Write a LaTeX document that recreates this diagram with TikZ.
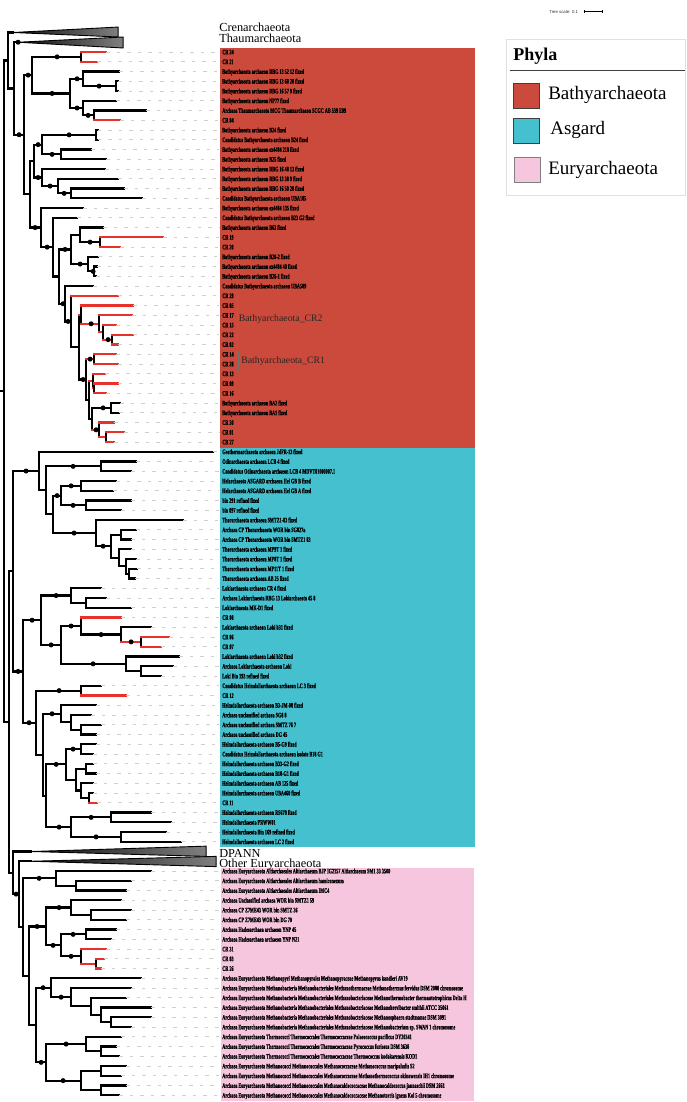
\documentclass[tikz,border=0pt]{standalone}
\usepackage{fontspec}
\setmainfont{Liberation Serif}
\newfontfamily\leaffont{Liberation Serif}[FakeStretch=0.6, BoldFeatures={FakeBold=0.8}]
\newfontfamily\scalefont{Liberation Sans}
\definecolor{bathy}{HTML}{CC4A3B}
\definecolor{asg}{HTML}{44C0CE}
\definecolor{eury}{HTML}{F5C6DD}
\definecolor{crred}{HTML}{E8312A}
\definecolor{guidegray}{HTML}{CFCFCF}
\tikzset{
  br/.style={line width=2.2pt, line cap=rect},
  guideline/.style={guidegray, line width=0.7pt, dash pattern=on 3.5pt off 7pt},
  leaf/.style={anchor=base west, inner sep=0pt, yshift=-2.4pt, text=black,
    font=\leaffont\bfseries\fontsize{7}{7}\selectfont},
  big/.style={anchor=base west, inner sep=0pt, font=\fontsize{12.3}{12.3}\selectfont},
  clade/.style={anchor=base west, inner sep=0pt, text=black!85, font=\fontsize{9.8}{9.8}\selectfont},
  tri/.style={left color=black!95, right color=black!50, draw=black, line width=0.9pt, line join=miter},
  legtext/.style={anchor=base west, inner sep=0pt, font=\fontsize{19}{19}\selectfont},
  swatch/.style={draw=black!75, line width=0.8pt}
}
\newcommand\tnode[5]{\draw[br] (#1,#3) -- (#2,#3); \draw[br] (#2,#4) -- (#2,#5);}
\newcommand\tnoder[5]{\draw[br,crred] (#1,#3) -- (#2,#3); \draw[br] (#2,#4) -- (#2,#5);}
\newcommand\tleaf[4]{\draw[br,#1] (#2,#4) -- (#3,#4); \draw[guideline] (#3,#4) -- (218,#4);}
\newcommand\tdot[2]{\fill (#1,#2) circle (2.5pt);}
\begin{document}
\begin{tikzpicture}[x=1pt,y=-9.75pt]
% ---------- pixel scope: frame, boxes, legend ----------
\begin{scope}[shift={(0pt,32.5pt)},y=-1pt]
  \useasboundingbox (0,0) rectangle (685,1102);
  \fill[white] (0,0) rectangle (685,1102);
  \fill[bathy] (219,47.6) rectangle (474,447.9);
  \fill[asg] (219,447.9) rectangle (474,846.6);
  \fill[eury] (220,867.5) rectangle (473,1101);
  % clade bars
  \draw[black!55, line width=0.6pt] (235.7,293) -- (235.7,347);
  \draw[black!55, line width=0.6pt] (237,352) -- (237,372);
  \node[clade] (cr2) at (237.5,321.5) {Bathyarchaeota\_CR2};
  \node[clade] (cr1) at (240,363.5) {Bathyarchaeota\_CR1};
  % group labels
  \node[big] (cren) at (218,32) {Crenarchaeota};
  \node[big] (thaum) at (218,43) {Thaumarchaeota};
  \node[big] (dpann) at (218,857) {DPANN};
  \node[big] (oeury) at (218,867.3) {Other Euryarchaeota};
  % tree scale
  \node[anchor=base west, inner sep=0pt, font=\scalefont\fontsize{4.3}{4.3}\selectfont, text=black!80] (tscale) at (548,13.5) {Tree scale: 0.1};
  \draw[line width=0.6pt] (583,11.5) -- (601,11.5);
  \draw[line width=0.6pt] (583,10) -- (583,13) (601,10) -- (601,13);
  % legend
  \draw[black!12, fill=white, line width=0.6pt] (505,39) rectangle (684,195);
  \node[anchor=base west, inner sep=0pt, font=\bfseries\fontsize{18}{18}\selectfont] (phyla) at (512,60.7) {Phyla};
  \draw[black!75, line width=0.9pt] (509,70.3) -- (684,70.3);
  \filldraw[swatch, fill=bathy] (512,83) rectangle (538,108);
  \node[legtext] (lbathy) at (547,100) {Bathyarchaeota};
  \filldraw[swatch, fill=asg] (512,118) rectangle (538,143);
  \node[legtext] (lasg) at (549,135) {Asgard};
  \filldraw[swatch, draw=black!50, fill=eury] (513,157) rectangle (539,182);
  \node[legtext] (leury) at (547,175) {Euryarchaeota};
\end{scope}
% ---------- collapsed clades ----------
\shade[tri] (12,0) -- (117,-0.56) -- (117,0.46) -- cycle;
\shade[tri] (17,1) -- (122,0.46) -- (122,1.59) -- cycle;
\shade[tri] (30,84) -- (205,83.45) -- (205,84.5) -- cycle;
\shade[tri] (30,85) -- (215,84.5) -- (215,85.55) -- cycle;
% ---------- backbone ----------
\draw[br] (0,36.8) -- (3,36.8);
\draw[br] (3,2.87) -- (3,70.72);
\draw[br] (3,2.87) -- (7,2.87);
\draw[br] (7,0) -- (7,5.743);
\draw[br] (7,0) -- (12,0);
\draw[br] (7,5.743) -- (13,5.743);
\draw[br] (13,1) -- (13,10.4865);
\draw[br] (13,1) -- (17,1); \tdot{17}{1}
\draw[br] (3,70.72) -- (8,70.72);
\draw[br] (8,55.26) -- (8,86.19);
% ---------- Bathyarchaeota ----------
\tnode{13}{23}{10.4865}{4.375}{16.5979} \tdot{18}{10.4865}
\tnode{23}{31}{4.375}{2.5}{6.25} \tdot{27}{4.375}
\tnode{31}{80}{2.5}{2}{3} \tdot{56}{2.5}
\tleaf{crred}{80}{105}{2} \tleaf{crred}{80}{96}{3}
\tnode{31}{69}{6.25}{4.75}{7.75} \tdot{51}{6.25}
\tnode{69}{82}{4.75}{4}{5.5} \tdot{76}{4.75}
\tleaf{black}{82}{118}{4}
\tnode{82}{115}{5.5}{5}{6} \tdot{98}{5.5}
\tleaf{black}{115}{117}{5} \tleaf{black}{115}{117}{6}
\tnode{69}{82}{7.75}{7}{8.5} \tdot{76}{7.75}
\tleaf{black}{82}{115}{7}
\tnode{82}{93}{8.5}{8}{9} \tdot{87}{8.5}
\tleaf{black}{93}{145}{8} \tleaf{crred}{93}{119}{9}
\tnode{23}{29}{16.5979}{13.1875}{20.0083}
\tnode{29}{33}{13.1875}{11.5}{14.875}
\tnode{33}{41}{11.5}{10.5}{12.5} \tdot{37}{11.5}
\tnode{41}{95}{10.5}{10}{11} \tdot{68}{10.5}
\tleaf{black}{95}{96.5}{10} \tleaf{black}{95}{96.5}{11}
\tnode{41}{60}{12.5}{12}{13} \tdot{51}{12.5}
\tleaf{black}{60}{90}{12} \tleaf{black}{60}{105}{13}
\tnode{33}{41}{14.875}{14}{15.75} \tdot{37}{14.875}
\tleaf{black}{41}{104}{14}
\tnode{41}{57}{15.75}{15}{16.5} \tdot{49}{15.75}
\tleaf{black}{57}{117}{15}
\tnode{57}{70}{16.5}{16}{17} \tdot{63}{16.5}
\tleaf{black}{70}{123}{16} \tleaf{black}{70}{141}{17}
\tnode{29}{40}{20.0083}{18}{22.0166} \tdot{34}{20.0083}
\tleaf{black}{40}{82}{18}
\tnode{40}{52}{22.0166}{19}{25.0332} \tdot{46}{22.0166}
\tleaf{black}{52}{76}{19}
\tnode{52}{58}{25.0332}{22.25}{27.8164}
\tnode{58}{70}{22.25}{20.75}{23.75} \tdot{64}{22.25}
\tnode{70}{79}{20.75}{20}{21.5}
\tleaf{black}{79}{102}{20}
\tnode{79}{99}{21.5}{21}{22} \tdot{89}{21.5}
\tleaf{crred}{99}{162}{21} \tleaf{crred}{99}{119}{22}
\tnode{70}{87}{23.75}{23}{24.5} \tdot{79}{23.75}
\tleaf{black}{87}{97}{23}
\tnode{87}{93}{24.5}{24}{25} \tdot{92}{24.5}
\tleaf{black}{93}{96}{24} \tleaf{black}{93}{95}{25}
\tnode{58}{64}{27.8164}{26}{29.6328} \tdot{62}{27.8164}
\tleaf{black}{64}{92}{26}
\tnode{64}{70}{29.6328}{27}{32.2656} \tdot{67}{29.6328}
\tleaf{crred}{70}{117}{27}
\tnode{70}{78}{32.2656}{28.9375}{35.5938}
\tnoder{78}{80}{28.9375}{28}{29.875}
\tleaf{crred}{80}{132}{28}
\tnoder{80}{98}{29.875}{29}{30.75} \tdot{90}{29.875}
\tleaf{crred}{98}{131}{29}
\tnoder{98}{102}{30.75}{30}{31.5}
\tleaf{crred}{102}{115}{30}
\tnoder{102}{111}{31.5}{31}{32} \tdot{107}{31.5}
\tleaf{crred}{111}{132}{31} \tleaf{crred}{111}{117}{32}
\tnode{78}{85}{35.5938}{33.5}{37.6875} \tdot{82}{35.5938}
\tnoder{85}{93}{33.5}{33}{34} \tdot{89}{33.5}
\tleaf{crred}{93}{115}{33} \tleaf{crred}{93}{117}{34}
\tnode{85}{88}{37.6875}{35.75}{39.625}
\tnoder{88}{92}{35.75}{35}{36.5}
\tleaf{crred}{92}{104}{35}
\tnoder{92}{93}{36.5}{36}{37}
\tleaf{crred}{93}{117}{36} \tleaf{crred}{93}{105}{37}
\tnode{88}{91}{39.625}{38.5}{40.75}
\tnode{91}{110}{38.5}{38}{39} \tdot{102}{38.5}
\tleaf{black}{110}{119}{38} \tleaf{black}{110}{118}{39}
\tnoder{91}{98}{40.75}{40}{41.5} \tdot{95}{40.75}
\tleaf{crred}{98}{113}{40}
\tnoder{98}{105}{41.5}{41}{42}
\tleaf{crred}{105}{123}{41} \tleaf{crred}{105}{113}{42}
% ---------- Asgard ----------
\tnode{8}{12}{55.26}{44.98}{65.53}
\tnode{12}{38}{44.98}{43}{46.96} \tdot{25}{44.98}
\tleaf{black}{38}{212}{43}
\tnode{38}{45}{46.96}{44.5}{49.42}
\tnode{45}{100}{44.5}{44}{45} \tdot{72}{44.5}
\tleaf{black}{100}{135}{44} \tleaf{black}{100}{130}{45}
\tnode{45}{52}{49.42}{47.5}{51.34}
\tnode{52}{60}{47.5}{46.5}{48.5} \tdot{56}{47.5}
\tnode{60}{80}{46.5}{46}{47} \tdot{70}{46.5}
\tleaf{black}{80}{115}{46} \tleaf{black}{80}{112}{47}
\tnode{60}{85}{48.5}{48}{49} \tdot{72}{48.5}
\tleaf{black}{85}{130}{48} \tleaf{black}{85}{120}{49}
\tnode{52}{95}{51.34}{50}{52.69} \tdot{73}{51.34}
\tleaf{black}{95}{182}{50}
\tnode{95}{110}{52.69}{51.5}{53.875} \tdot{102}{52.69}
\tnode{110}{120}{51.5}{51}{52}
\tleaf{black}{120}{135}{51} \tleaf{black}{120}{130}{52}
\tnode{110}{118}{53.875}{53}{54.75}
\tleaf{black}{118}{130}{53}
\tnode{118}{125}{54.75}{54}{55.5}
\tleaf{black}{125}{135}{54}
\tnode{125}{128}{55.5}{55}{56}
\tleaf{black}{128}{136}{55} \tleaf{black}{128}{134}{56}
\tnode{12}{22}{65.53}{60.28}{70.79} \tdot{17}{65.53}
\tnode{22}{40}{60.28}{57.75}{62.8125} \tdot{31}{60.28}
\tnode{40}{70}{57.75}{57}{58.5} \tdot{55}{57.75}
\tleaf{black}{70}{100}{57}
\tnode{70}{85}{58.5}{58}{59}
\tleaf{black}{85}{105}{58} \tleaf{black}{85}{130}{59}
\tnode{40}{60}{62.8125}{60.875}{64.75} \tdot{50}{62.8125}
\tnode{60}{80}{60.875}{60}{61.75} \tdot{70}{60.875}
\tleaf{crred}{80}{120}{60}
\tnode{80}{120}{61.75}{61}{62.5} \tdot{100}{61.75}
\tleaf{black}{120}{150}{61}
\tnoder{120}{140}{62.5}{62}{63} \tdot{130}{62.5}
\tleaf{crred}{140}{168}{62} \tleaf{crred}{140}{160}{63}
\tnode{60}{125}{64.75}{64}{65.5} \tdot{92}{64.75}
\tleaf{black}{125}{178}{64}
\tnode{125}{140}{65.5}{65}{66}
\tleaf{black}{140}{172}{65} \tleaf{black}{140}{160}{66}
\tnode{22}{35}{70.79}{67.5}{74.08} \tdot{28}{70.79}
\tnode{35}{80}{67.5}{67}{68} \tdot{58}{67.5}
\tleaf{black}{80}{100}{67} \tleaf{crred}{80}{125}{68}
\tnode{35}{42}{74.08}{69.875}{78.28}
\tnode{42}{60}{69.875}{69}{70.75} \tdot{51}{69.875}
\tleaf{black}{60}{95}{69}
\tnode{60}{70}{70.75}{70}{71.5}
\tleaf{black}{70}{90}{70}
\tnode{70}{80}{71.5}{71}{72}
\tleaf{black}{80}{100}{71} \tleaf{black}{80}{95}{72}
\tnode{42}{45}{78.28}{75.06}{81.5}
\tnode{45}{65}{75.06}{73.5}{76.625} \tdot{55}{75.06}
\tnode{65}{80}{73.5}{73}{74} \tdot{72}{73.5}
\tleaf{black}{80}{95}{73} \tleaf{black}{80}{92}{74}
\tnode{65}{75}{76.625}{75.5}{77.75}
\tnode{75}{85}{75.5}{75}{76}
\tleaf{black}{85}{92}{75} \tleaf{black}{85}{95}{76}
\tnode{75}{80}{77.75}{77}{78.5}
\tleaf{black}{80}{92}{77}
\tnode{80}{88}{78.5}{78}{79}
\tleaf{black}{88}{92}{78} \tleaf{crred}{88}{96}{79}
\tnode{45}{70}{81.5}{80.5}{82.5} \tdot{58}{81.5}
\tnode{70}{110}{80.5}{80}{81} \tdot{90}{80.5}
\tleaf{black}{110}{150}{80} \tleaf{black}{110}{170}{81}
\tnode{70}{120}{82.5}{82}{83} \tdot{95}{82.5}
\tleaf{black}{120}{165}{82} \tleaf{black}{120}{180}{83}
% ---------- DPANN / Euryarchaeota ----------
\tnode{8}{12}{86.19}{84}{88.37}
\draw[br] (12,84) -- (30,84);
\tnode{12}{18}{88.37}{85}{91.75} \tdot{15}{88.37}
\draw[br] (18,85) -- (30,85);
\tnode{18}{22}{91.75}{86.75}{96.74}
\tnode{22}{55}{86.75}{86}{87.5} \tdot{38}{86.75}
\tleaf{black}{55}{150}{86}
\tnode{55}{75}{87.5}{87}{88}
\tleaf{black}{75}{130}{87} \tleaf{black}{75}{125}{88}
\tnode{22}{28}{96.74}{91.69}{101.8}
\tnode{28}{45}{91.69}{89.75}{93.625} \tdot{36}{91.69}
\tnode{45}{70}{89.75}{89}{90.5} \tdot{58}{89.75}
\tleaf{black}{70}{120}{89}
\tnode{70}{90}{90.5}{90}{91}
\tleaf{black}{90}{130}{90} \tleaf{black}{90}{125}{91}
\tnode{45}{60}{93.625}{92.5}{94.75} \tdot{52}{93.625}
\tnode{60}{85}{92.5}{92}{93} \tdot{72}{92.5}
\tleaf{black}{85}{115}{92} \tleaf{black}{85}{110}{93}
\tnode{60}{80}{94.75}{94}{95.5} \tdot{70}{94.75}
\tleaf{crred}{80}{105}{94}
\tnoder{80}{95}{95.5}{95}{96}
\tleaf{crred}{95}{103}{95} \tleaf{crred}{95}{100}{96}
\tnode{28}{35}{101.8}{97.97}{105.625}
\tnode{35}{50}{97.97}{97}{98.94} \tdot{42}{97.97}
\tleaf{black}{50}{140}{97}
\tnode{50}{70}{98.94}{98}{99.875} \tdot{60}{98.94}
\tleaf{black}{70}{130}{98}
\tnode{70}{90}{99.875}{99}{100.75}
\tleaf{black}{90}{125}{99}
\tnode{90}{100}{100.75}{100}{101.5}
\tleaf{black}{100}{150}{100}
\tnode{100}{110}{101.5}{101}{102}
\tleaf{black}{110}{150}{101} \tleaf{black}{110}{130}{102}
\tnode{35}{45}{105.625}{103.75}{107.5} \tdot{40}{105.625}
\tnode{45}{85}{103.75}{103}{104.5} \tdot{65}{103.75}
\tleaf{black}{85}{120}{103}
\tnode{85}{100}{104.5}{104}{105}
\tleaf{black}{100}{115}{104} \tleaf{black}{100}{118}{105}
\tnode{45}{80}{107.5}{106.5}{108.5} \tdot{62}{107.5}
\tnode{80}{100}{106.5}{106}{107}
\tleaf{black}{100}{125}{106} \tleaf{black}{100}{120}{107}
\tnode{80}{100}{108.5}{108}{109}
\tleaf{black}{100}{125}{108} \tleaf{black}{100}{118}{109}
% ---------- leaf labels ----------
\foreach \r/\t in {
2/CR 24, 3/CR 21,
4/Bathyarchaeota archaeon RBG 13 52 12 fixed,
5/Bathyarchaeota archaeon RBG 13 60 20 fixed,
6/Bathyarchaeota archaeon RBG 16 57 9 fixed,
7/Bathyarchaeota archaeon NP77 fixed,
8/Archaea Thaumarchaeota MCG Thaumarchaeon SCGC AB 539 E09,
9/CR 04,
10/Bathyarchaeota archaeon B24 fixed,
11/Candidatus Bathyarchaeota archaeon B24 fixed,
12/Bathyarchaeota archaeon ex4484 218 fixed,
13/Bathyarchaeota archaeon B25 fixed,
14/Bathyarchaeota archaeon RBG 16 48 13 fixed,
15/Bathyarchaeota archaeon RBG 13 38 9 fixed,
16/Bathyarchaeota archaeon RBG 16 50 28 fixed,
17/Candidatus Bathyarchaeota archaeon UBA185,
18/Bathyarchaeota archaeon ex4484 135 fixed,
19/Candidatus Bathyarchaeota archaeon B23 G2 fixed,
20/Bathyarchaeota archaeon B63 fixed,
21/CR 19, 22/CR 20,
23/Bathyarchaeota archaeon B26-2 fixed,
24/Bathyarchaeota archaeon ex4484 40 fixed,
25/Bathyarchaeota archaeon B26-1 fixed,
26/Candidatus Bathyarchaeota archaeon UBA589,
27/CR 29, 28/CR 05, 29/CR 17, 30/CR 15, 31/CR 22, 32/CR 02,
33/CR 14, 34/CR 28, 35/CR 13, 36/CR 09, 37/CR 16,
38/Bathyarchaeota archaeon BA2 fixed,
39/Bathyarchaeota archaeon BA1 fixed,
40/CR 30, 41/CR 01, 42/CR 27,
43/Geothermarchaeota archaeon JdFR-13 fixed,
44/Odinarchaeota archaeon LCB 4 fixed,
45/Candidatus Odinarchaeota archaeon LCB 4 MDVT01000007.1,
46/Helarchaeota ASGARD archaeon Hel GB B fixed,
47/Helarchaeota ASGARD archaeon Hel GB A fixed,
48/bin 291 refined fixed,
49/bin 097 refined fixed,
50/Thorarchaeota archaeon SMTZ1-83 fixed,
51/Archaea CP Thorarchaeota WOR bin SG827a,
52/Archaea CP Thorarchaeota WOR bin SMTZ1 83,
53/Thorarchaeota archaeon MP9T 1 fixed,
54/Thorarchaeota archaeon MP8T 1 fixed,
55/Thorarchaeota archaeon MP11T 1 fixed,
56/Thorarchaeota archaeon AB 25 fixed,
57/Lokiarchaeota archaeon CR 4 fixed,
58/Archaea Lokiarchaeota RBG 13 Lokiarchaeota 45 8,
59/Lokiarchaeota MK-D1 fixed,
60/CR 08,
61/Lokiarchaeota archaeon Loki b31 fixed,
62/CR 06, 63/CR 07,
64/Lokiarchaeota archaeon Loki b32 fixed,
65/Archaea Lokiarchaeota archaeon Loki,
66/Loki Bin 193 refined fixed,
67/Candidatus Heimdallarchaeota archaeon LC 3 fixed,
68/CR 12,
69/Heimdallarchaeota archaeon B3-JM-08 fixed,
70/Archaea unclassified archaea SG8 8,
71/Archaea unclassified archaea SMTZ 76 7,
72/Archaea unclassified archaea DG 45,
73/Heimdallarchaeota archaeon B5-G9 fixed,
74/Candidatus Heimdallarchaeota archaeon isolate B18 G1,
75/Heimdallarchaeota archaeon B33-G2 fixed,
76/Heimdallarchaeota archaeon B18-G1 fixed,
77/Heimdallarchaeota archaeon AB 125 fixed,
78/Heimdallarchaeota archaeon UBA460 fixed,
79/CR 11,
80/Heimdallarchaeota archaeon RS678 fixed,
81/Heimdallarchaeota PRWW01,
82/Heimdallarchaeota Bin 169 refined fixed,
83/Heimdallarchaeota archaeon LC 2 fixed,
86/Archaea Euryarchaeota Altiarchaeales Altiarchaeum BJP IG2157 Altiarchaeum SM1 33 3500,
87/Archaea Euryarchaeota Altiarchaeales Altiarchaeum hamiconexum,
88/Archaea Euryarchaeota Altiarchaeales Altiarchaeum IMC4,
89/Archaea Unclassified archaea WOR bin SMTZ1 59,
90/Archaea CP Z7ME43 WOR bin SMTZ 36,
91/Archaea CP Z7ME43 WOR bin DG 70,
92/Archaea Hadesarchaea archaeon YNP 45,
93/Archaea Hadesarchaea archaeon YNP N21,
94/CR 31, 95/CR 03, 96/CR 26,
97/Archaea Euryarchaeota Methanopyri Methanopyrales Methanopyraceae Methanopyrus kandleri AV19,
98/Archaea Euryarchaeota Methanobacteria Methanobacteriales Methanothermaceae Methanothermus fervidus DSM 2088 chromosome,
99/Archaea Euryarchaeota Methanobacteria Methanobacteriales Methanobacteriaceae Methanothermobacter thermautotrophicus Delta H,
100/Archaea Euryarchaeota Methanobacteria Methanobacteriales Methanobacteriaceae Methanobrevibacter smithii ATCC 35061,
101/Archaea Euryarchaeota Methanobacteria Methanobacteriales Methanobacteriaceae Methanosphaera stadtmanae DSM 3091,
102/Archaea Euryarchaeota Methanobacteria Methanobacteriales Methanobacteriaceae Methanobacterium sp. SWAN 1 chromosome,
103/Archaea Euryarchaeota Thermococci Thermococcales Thermococcaceae Palaeococcus pacificus DY20341,
104/Archaea Euryarchaeota Thermococci Thermococcales Thermococcaceae Pyrococcus furiosus DSM 3638,
105/Archaea Euryarchaeota Thermococci Thermococcales Thermococcaceae Thermococcus kodakarensis KOD1,
106/Archaea Euryarchaeota Methanococci Methanococcales Methanococcaceae Methanococcus maripaludis S2,
107/Archaea Euryarchaeota Methanococci Methanococcales Methanococcaceae Methanothermococcus okinawensis IH1 chromosome,
108/Archaea Euryarchaeota Methanococci Methanococcales Methanocaldococcaceae Methanocaldococcus jannaschii DSM 2661,
109/Archaea Euryarchaeota Methanococci Methanococcales Methanocaldococcaceae Methanotorris igneus Kol 5 chromosome}
  {\node[leaf] (leaf\r) at (221,\r) {\t};}
\end{tikzpicture}
\end{document}
